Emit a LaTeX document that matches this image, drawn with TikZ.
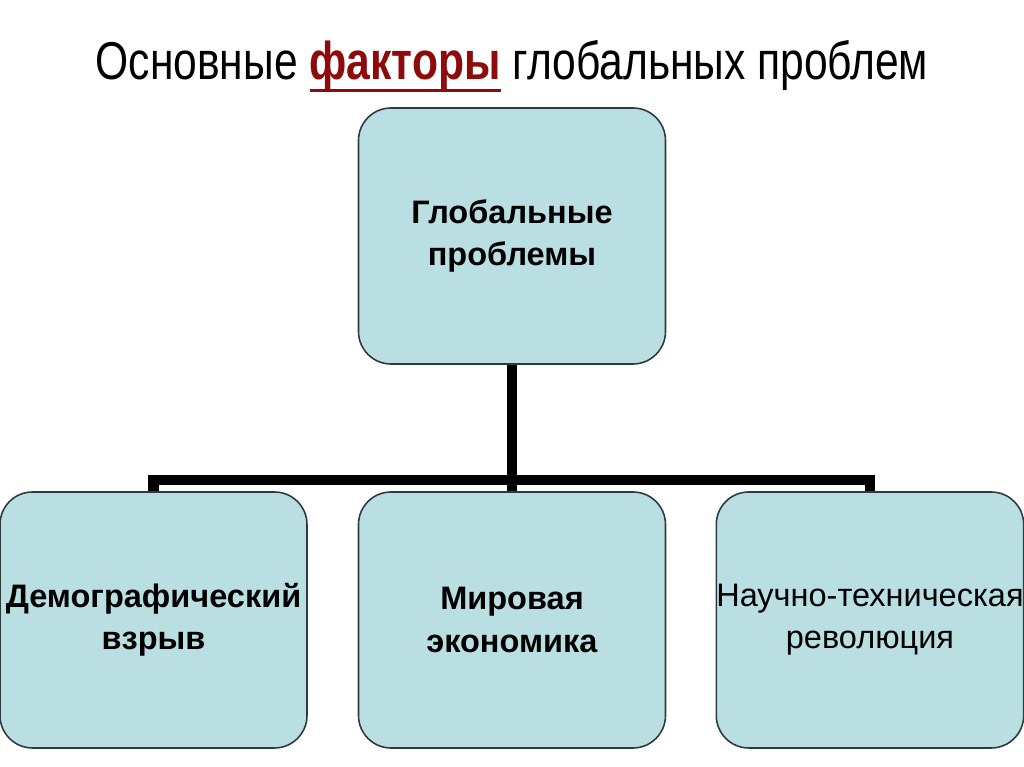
\documentclass[tikz,border=0pt]{standalone}
\usepackage{fontspec}
\setmainfont{Liberation Sans}
\newfontfamily\narrowfont[FakeStretch=0.80]{Liberation Sans}
\usepackage{xcolor}
\definecolor{boxfill}{HTML}{B9DFE2}
\definecolor{boxline}{HTML}{2F3A3C}
\definecolor{darkred}{HTML}{8E0B0B}
\usetikzlibrary{positioning}
\newcommand{\uword}[1]{\setbox0\hbox{#1}\rlap{\rule[\dimexpr-\dp0-0.6pt\relax]{\wd0}{1.7pt}}\box0}
\tikzset{
    factor/.style={draw=boxline, fill=boxfill, rounded corners=0.65cm, line width=0.9pt, minimum width=6.14cm, minimum height=5.12cm, align=center, font=\fontsize{18.5}{24}\selectfont, inner sep=0pt},
    tree/.style={line width=5.7pt, black},
    heading/.style={font=\narrowfont\fontsize{30.3}{36}\selectfont, inner sep=0pt}
}

\begin{document}
\begin{tikzpicture}
  \useasboundingbox (0,0) rectangle (20.48,15.34);

  % Title
  \node[heading] (title) at (10.24,14.02) {Основные \textcolor{darkred}{\uword{\textbf{факторы}}} глобальных проблем};

  % Root box
  \node[factor] (root) at (10.24,10.62) {\textbf{Глобальные}\\\textbf{проблемы}};

  % Factors
  \node[factor] (demo) at (3.07,2.94) {\textbf{Демографический}\\\textbf{взрыв}};
  \node[factor] (econ) at (10.24,2.94) {\textbf{Мировая}\\\textbf{экономика}};
  \node[factor] (ntr) at (17.40,2.94) {Научно-техническая\\революция};

  % Tree connectors
  \coordinate (bus) at (10.24,5.74);
  \draw[tree] (root.south) -- (bus);
  \draw[tree] (bus) -| (demo.north);
  \draw[tree] (bus) -- (econ.north);
  \draw[tree] (bus) -| (ntr.north);
\end{tikzpicture}
\end{document}
